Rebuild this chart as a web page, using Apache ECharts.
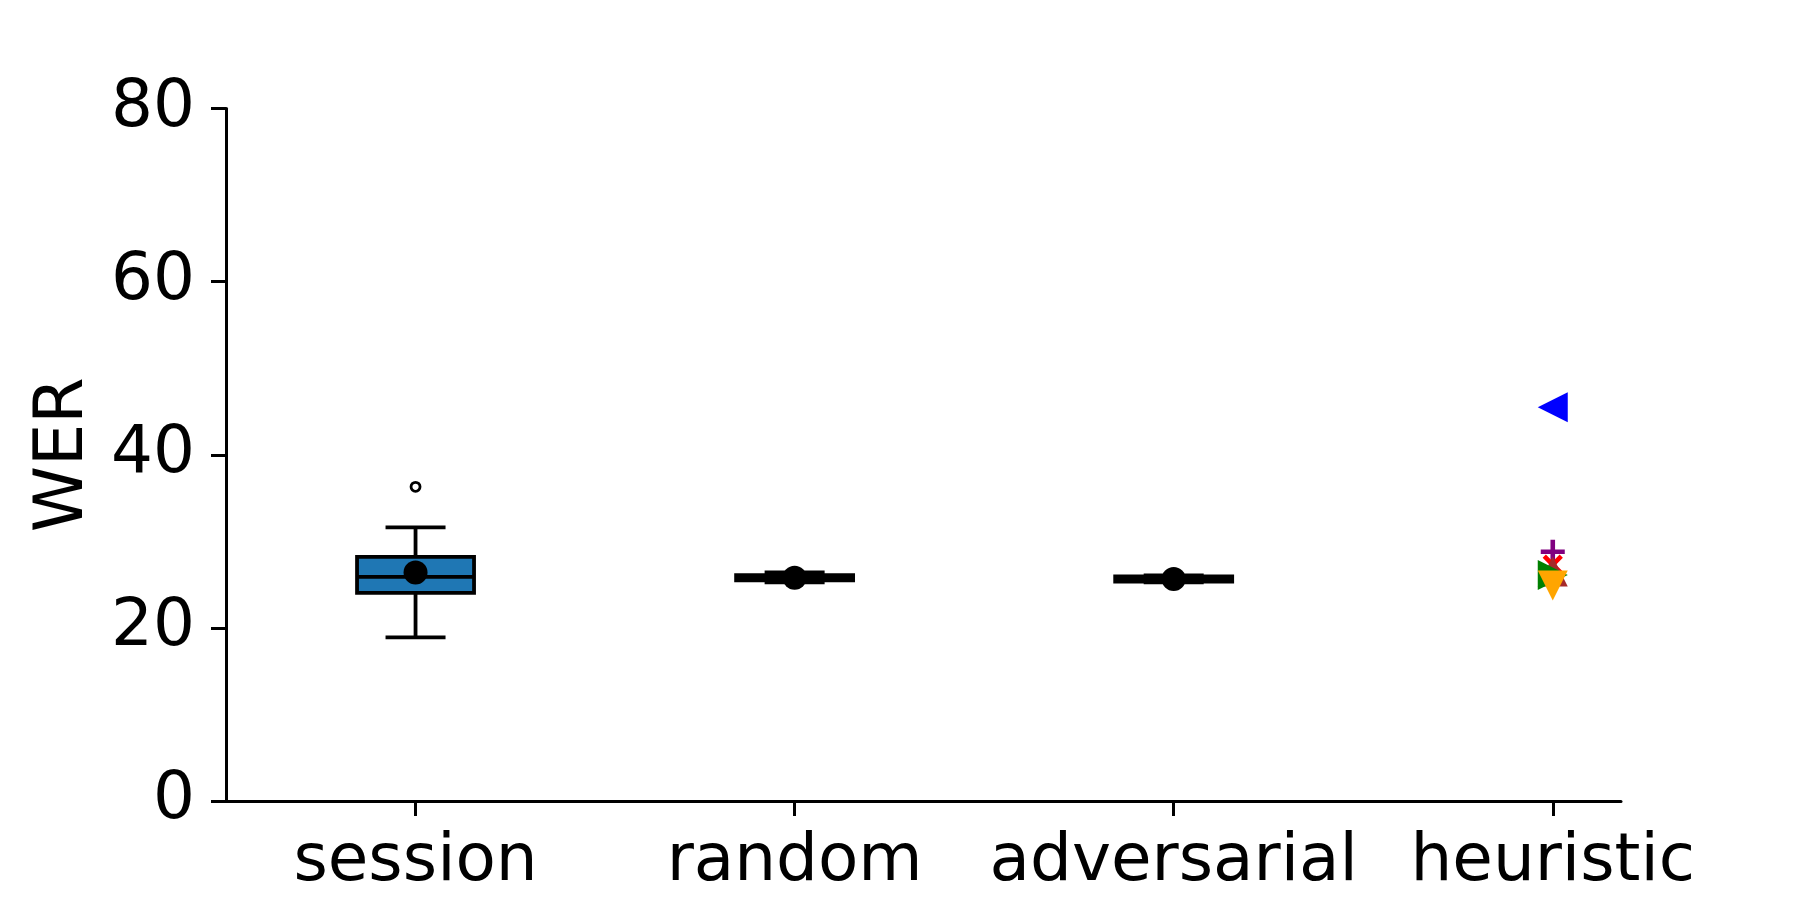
<!DOCTYPE html>
<html>
<head>
<meta charset="utf-8">
<script src="https://cdn.jsdelivr.net/npm/echarts@6/dist/echarts.min.js"></script>
<style>
  html, body { margin: 0; padding: 0; background: #fff; }
  #chart { width: 1800px; height: 900px; }
</style>
</head>
<body>
<div id="chart"></div>
<script>
// categories on the x axis (positions 1..4)
const categories = ["session", "random", "adversarial", "heuristic"];
const yTicks = [0, 20, 40, 60, 80];

// box stats: [low whisker, Q1, median, Q3, high whisker]
const sessionBox = [18.9, 24.05, 25.9, 28.2, 31.6];
const randomBox = [25.25, 25.5, 25.8, 26.1, 26.4];
const adversarialBox = [25.25, 25.35, 25.65, 25.95, 26.05];
const boxMeans = [26.4, 25.8, 25.65];
const sessionOutliers = [36.3];

// heuristic methods, one value each
const heuristicValues = [45.5, 28.8, 27.3, 26.5, 26.1, 24.9];

const FONT = "DejaVu Sans";
const plusPath = "path://M-2.3,-12H2.3V-2.3H12V2.3H2.3V12H-2.3V2.3H-12V-2.3H-2.3Z";
const heuristicStyles = [
  { color: "#0000ff", symbol: "triangle", rotate: 90, size: 30 },
  { color: "#800080", symbol: plusPath, rotate: 0, size: 24 },
  { color: "#ff0000", symbol: plusPath, rotate: 45, size: 24 },
  { color: "#a52a2a", symbol: "triangle", rotate: 0, size: 30 },
  { color: "#008000", symbol: "triangle", rotate: -90, size: 30 },
  { color: "#ffa500", symbol: "triangle", rotate: 180, size: 30 },
];

const boxes = [sessionBox, randomBox, adversarialBox];
const boxData = boxes.map((b, i) => [i + 1].concat(b));

const chart = echarts.init(document.getElementById("chart"));

function renderBox(params, api) {
  const x = api.value(0);
  const lo = api.coord([x, api.value(1)]);
  const q1 = api.coord([x, api.value(2)]);
  const med = api.coord([x, api.value(3)]);
  const q3 = api.coord([x, api.value(4)]);
  const hi = api.coord([x, api.value(5)]);
  const cx = lo[0];
  const bw = 117, cw = 60;
  const ls = { stroke: "#000", lineWidth: 3.8 };
  return {
    type: "group",
    children: [
      { type: "line", shape: { x1: cx, y1: lo[1], x2: cx, y2: q1[1] }, style: ls },
      { type: "line", shape: { x1: cx, y1: q3[1], x2: cx, y2: hi[1] }, style: ls },
      { type: "line", shape: { x1: cx - cw / 2, y1: lo[1], x2: cx + cw / 2, y2: lo[1] }, style: ls },
      { type: "line", shape: { x1: cx - cw / 2, y1: hi[1], x2: cx + cw / 2, y2: hi[1] }, style: ls },
      {
        type: "rect",
        shape: { x: cx - bw / 2, y: q3[1], width: bw, height: q1[1] - q3[1] },
        style: { fill: "#1f77b4", stroke: "#000", lineWidth: 3.8 },
      },
      { type: "line", shape: { x1: cx - bw / 2, y1: med[1], x2: cx + bw / 2, y2: med[1] }, style: ls },
    ],
  };
}

const series = [
  {
    type: "custom",
    renderItem: renderBox,
    data: boxData,
    encode: { x: 0, y: [1, 2, 3, 4, 5] },
    z: 2,
  },
  {
    type: "scatter",
    symbol: "circle",
    symbolSize: 9,
    itemStyle: { color: "#fff", borderColor: "#000", borderWidth: 2.8, opacity: 1 },
    data: sessionOutliers.map((v) => [1, v]),
    z: 3,
  },
  {
    type: "scatter",
    symbol: "circle",
    symbolSize: 24,
    itemStyle: { color: "#000", opacity: 1 },
    data: boxMeans.map((v, i) => [i + 1, v]),
    z: 4,
  },
];

heuristicValues.forEach((v, i) => {
  const s = heuristicStyles[i];
  series.push({
    type: "scatter",
    symbol: s.symbol,
    symbolSize: s.size,
    symbolRotate: s.rotate,
    itemStyle: { color: s.color, opacity: 1 },
    data: [[4, v]],
    z: 5 + i,
  });
});

chart.setOption({
  animation: false,
  backgroundColor: "#fff",
  grid: { left: 226, right: 179, top: 108.5, bottom: 99 },
  xAxis: {
    type: "value",
    min: 0.5,
    max: 4.18,
    splitLine: { show: false },
    axisLine: { onZero: false, lineStyle: { color: "#000", width: 3 } },
    axisTick: { show: true, customValues: [1, 2, 3, 4], length: 15, lineStyle: { color: "#000", width: 3 } },
    axisLabel: {
      customValues: [1, 2, 3, 4],
      formatter: (v) => categories[Math.round(v) - 1],
      fontFamily: FONT,
      fontSize: 66,
      color: "#000",
      margin: 29,
    },
  },
  yAxis: {
    type: "value",
    min: 0,
    max: 80,
    interval: 20,
    name: "WER",
    nameLocation: "middle",
    nameRotate: 90,
    nameGap: 128,
    nameTextStyle: { fontFamily: FONT, fontSize: 67, color: "#000" },
    splitLine: { show: false },
    axisLine: { show: true, lineStyle: { color: "#000", width: 3 } },
    axisTick: { show: true, length: 15, lineStyle: { color: "#000", width: 3 } },
    axisLabel: {
      fontFamily: FONT,
      fontSize: 66,
      color: "#000",
      margin: 31,
      formatter: (v) => (yTicks.includes(v) ? String(v) : ""),
    },
  },
  series: series,
});
</script>
</body>
</html>
